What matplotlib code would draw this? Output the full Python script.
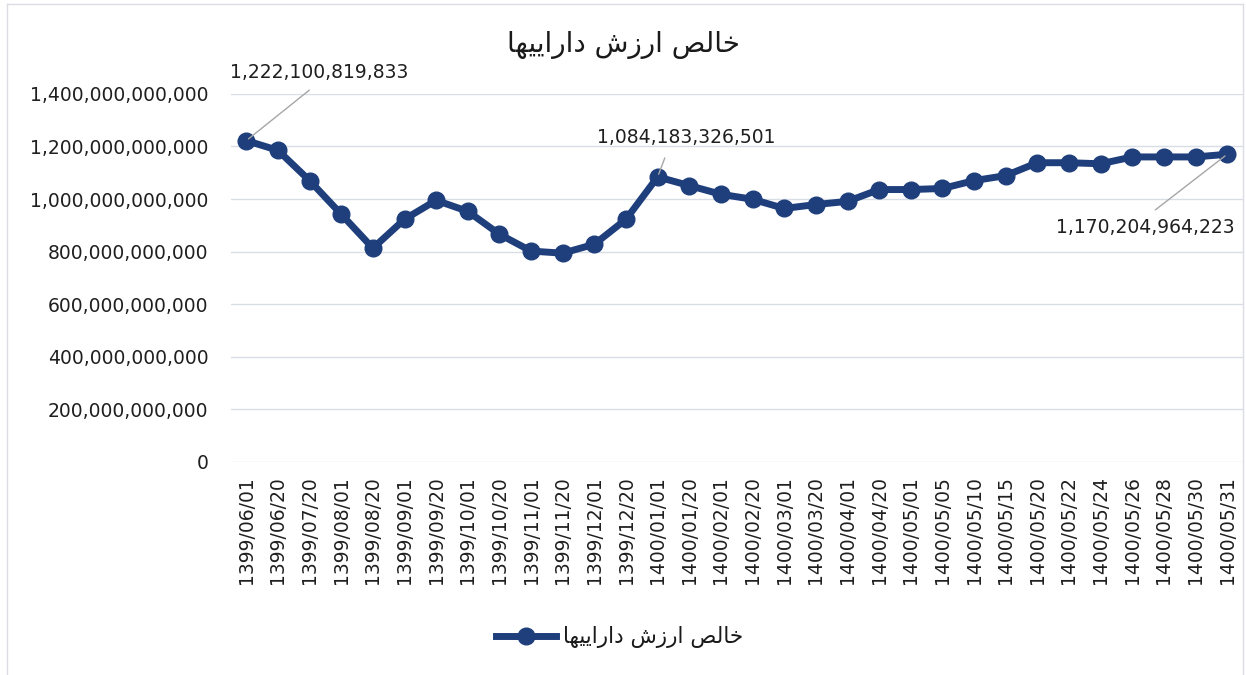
import matplotlib
matplotlib.use("Agg")
import matplotlib.pyplot as plt
from matplotlib.ticker import FuncFormatter
from matplotlib.lines import Line2D

# ---------------- data ----------------
dates = ["1399/06/01", "1399/06/20", "1399/07/20", "1399/08/01", "1399/08/20",
         "1399/09/01", "1399/09/20", "1399/10/01", "1399/10/20", "1399/11/01",
         "1399/11/20", "1399/12/01", "1399/12/20", "1400/01/01", "1400/01/20",
         "1400/02/01", "1400/02/20", "1400/03/01", "1400/03/20", "1400/04/01",
         "1400/04/20", "1400/05/01", "1400/05/05", "1400/05/10", "1400/05/15",
         "1400/05/20", "1400/05/22", "1400/05/24", "1400/05/26", "1400/05/28",
         "1400/05/30", "1400/05/31"]
nav_billion = [1222.100819833, 1185, 1070, 942, 813,
               923, 995, 953, 866, 802,
               794, 828, 923, 1084.183326501, 1051,
               1018, 999, 964, 979, 991,
               1036, 1036, 1040, 1070, 1089,
               1138, 1138, 1134, 1160, 1160,
               1160, 1170.204964223]
nav = [v * 1e9 for v in nav_billion]
annotated_idx = [0, 13, 31]
annotated_text = ["1,222,100,819,833", "1,084,183,326,501", "1,170,204,964,223"]
yticks = [0, 200e9, 400e9, 600e9, 800e9, 1000e9, 1200e9, 1400e9]

title_logical = "خالص ارزش داراییها"

# ---------------- minimal Persian shaper ----------------
FORMS = {  # iso, fin, ini, med
    "ا": ("\uFE8D", "\uFE8E", None, None),
    "د": ("\uFEA9", "\uFEAA", None, None),
    "ر": ("\uFEAD", "\uFEAE", None, None),
    "ز": ("\uFEAF", "\uFEB0", None, None),
    "خ": ("\uFEA5", "\uFEA6", "\uFEA7", "\uFEA8"),
    "ل": ("\uFEDD", "\uFEDE", "\uFEDF", "\uFEE0"),
    "ص": ("\uFEB9", "\uFEBA", "\uFEBB", "\uFEBC"),
    "ش": ("\uFEB5", "\uFEB6", "\uFEB7", "\uFEB8"),
    "ی": ("\uFEEF", "\uFEF0", "\uFEF3", "\uFEF4"),
    "ه": ("\uFEE9", "\uFEEA", "\uFEEB", "\uFEEC"),
}


def shape(text):
    chars = list(text)
    out = []
    for i, c in enumerate(chars):
        if c not in FORMS:
            out.append(c)
            continue
        prev = chars[i - 1] if i > 0 else None
        nxt = chars[i + 1] if i + 1 < len(chars) else None
        join_prev = prev in FORMS and FORMS[prev][2] is not None
        join_next = nxt in FORMS and FORMS[c][2] is not None
        iso, fin, ini, med = FORMS[c]
        if join_prev and join_next:
            out.append(med)
        elif join_prev:
            out.append(fin)
        elif join_next:
            out.append(ini)
        else:
            out.append(iso)
    return "".join(reversed(out))


title_vis = shape(title_logical)

# ---------------- style ----------------
LINE_COLOR = "#1f3f7c"
TEXT_COLOR = "#1f1f1f"
GRID_COLOR = "#d9dde6"
FONT = "DejaVu Sans"
FS = 13.5

plt.rcParams["font.family"] = [FONT]

fig = plt.figure(figsize=(12.46, 6.75), dpi=100)
ax = fig.add_axes([0.185, 0.3156, 0.8126, 0.5454])

x = list(range(len(dates)))
ax.plot(x, nav, color=LINE_COLOR, lw=5, marker="o", ms=12,
        markerfacecolor=LINE_COLOR, markeredgecolor=LINE_COLOR,
        solid_capstyle="round", zorder=3)

ax.set_xlim(-0.5, len(dates) - 0.5)
ax.set_ylim(0, 1400e9)
ax.set_yticks(yticks)
ax.yaxis.set_major_formatter(FuncFormatter(lambda v, p: f"{v:,.0f}"))
ax.set_xticks(x)
ax.set_xticklabels(dates, rotation=90)
ax.tick_params(axis="both", length=0, labelsize=FS, colors=TEXT_COLOR)
ax.tick_params(axis="x", pad=10)
ax.tick_params(axis="y", pad=16)
ax.grid(axis="y", color=GRID_COLOR, lw=1)
ax.set_axisbelow(True)
for s in ax.spines.values():
    s.set_visible(False)

# annotations
offsets = [(73, 68), (29, 39), (-82, -73)]
relpos = [(0.5, 0.0), (0.4, 0.0), (0.5, 1.0)]
for i, txt, off, rp in zip(annotated_idx, annotated_text, offsets, relpos):
    ax.annotate(txt, xy=(x[i], nav[i]), xytext=off, textcoords="offset pixels",
                ha="center", va="center", fontsize=FS, color=TEXT_COLOR,
                arrowprops=dict(arrowstyle="-", color="#a6a6a6", lw=1,
                                relpos=rp, shrinkA=6, shrinkB=2),
                annotation_clip=False, zorder=4)

fig.text(0.5, 0.933, title_vis, ha="center", va="center", fontsize=20,
         color="#1a1a1a", family=FONT)

handle = Line2D([], [], color=LINE_COLOR, lw=5, marker="o", ms=12)
fig.legend([handle], [title_vis], loc="center", bbox_to_anchor=(0.497, 0.056),
           frameon=False, fontsize=15.5, handlelength=2.8, handletextpad=0.3,
           labelcolor="#1a1a1a")

# chart border
for xs, ys in [([7 / 1246, 7 / 1246], [0, 1 - 4 / 675]),
               ([7 / 1246, 1243 / 1246], [1 - 4 / 675, 1 - 4 / 675]),
               ([1243 / 1246, 1243 / 1246], [1 - 4 / 675, 0])]:
    fig.add_artist(Line2D(xs, ys, transform=fig.transFigure, color="#dcdce4", lw=1))

fig.savefig("out.png", dpi=100)
